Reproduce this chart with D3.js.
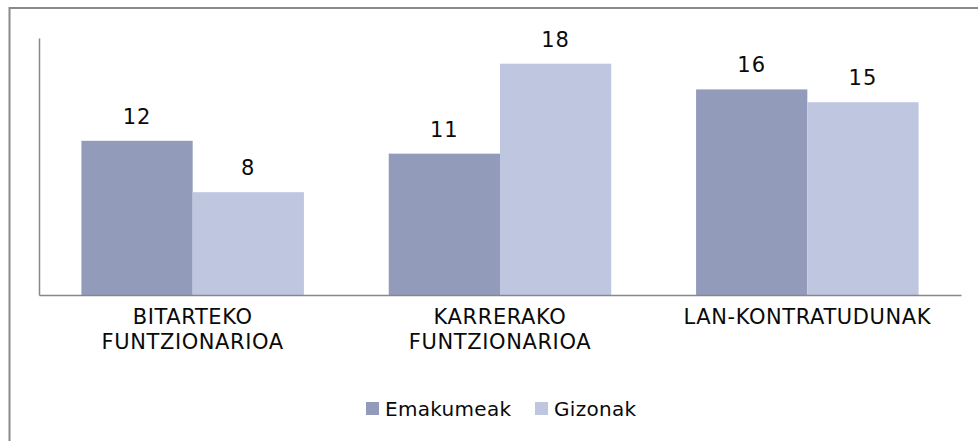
<!DOCTYPE html>
<html>
<head>
<meta charset="utf-8">
<script src="https://cdn.jsdelivr.net/npm/d3@7"></script>
<style>
  html, body { margin: 0; padding: 0; background: #fff; }
  text { font-family: "DejaVu Sans", sans-serif; fill: #0a0a0a; }
</style>
</head>
<body>
<div id="chart"></div>
<script>
const categories = [["BITARTEKO", "FUNTZIONARIOA"], ["KARRERAKO", "FUNTZIONARIOA"], ["LAN-KONTRATUDUNAK"]]
const series_names = ["Emakumeak", "Gizonak"]
const emakumeak = [12, 11, 16]
const gizonak = [8, 18, 15]
const colours = ["#939bba", "#bfc6e0"]

const width = 978
const height = 441
const left = 39
const right = 961
const baseline = 295
const top_y = 38
const font_size = 21
const letter_sp = 0.6

var svg = d3.select("#chart")
	.append("svg")
	.attr("width", width)
	.attr("height", height);

// frame, only top and left edges show in the picture
svg.append("rect")
	.attr("x", 9.5).attr("y", 8)
	.attr("width", 1000).attr("height", 500)
	.attr("fill", "none")
	.attr("stroke", "#8a8a8a")
	.attr("stroke-width", 2);

var cat_keys = categories.map(c => c.join(" "))
var x0 = d3.scaleBand()
	.domain(cat_keys)
	.range([left, right])
	.paddingInner(0.276)
	.paddingOuter(0.138);
var x1 = d3.scaleBand()
	.domain(series_names)
	.range([0, x0.bandwidth()]);
var y = d3.scaleLinear()
	.domain([0, 20])
	.range([baseline, top_y]);

var rows = cat_keys.map((k, i) => ({key: k, values: [
	{name: series_names[0], value: emakumeak[i]},
	{name: series_names[1], value: gizonak[i]}
]}));

var groups = svg.selectAll(".group")
	.data(rows)
	.enter().append("g")
	.attr("class", "group")
	.attr("transform", d => `translate(${x0(d.key)},0)`);

groups.selectAll("rect")
	.data(d => d.values)
	.enter().append("rect")
	.attr("x", d => x1(d.name))
	.attr("y", d => y(d.value))
	.attr("width", x1.bandwidth())
	.attr("height", d => baseline - y(d.value))
	.attr("fill", (d, i) => colours[i]);

groups.selectAll(".val")
	.data(d => d.values)
	.enter().append("text")
	.attr("class", "val")
	.attr("x", d => x1(d.name) + x1.bandwidth()/2)
	.attr("y", d => y(d.value) - 17)
	.attr("text-anchor", "middle")
	.attr("font-size", font_size + "px")
	.attr("letter-spacing", 1)
	.text(d => d.value);

// axes: plain lines, no ticks
var xAxis = d3.axisBottom(x0).tickSize(0).tickFormat("");
svg.append("g")
	.attr("transform", `translate(0,${baseline})`)
	.call(xAxis)
	.call(g => g.select(".domain").attr("stroke", "#888").attr("stroke-width", 1.5));
var yAxis = d3.axisLeft(y).tickSize(0).tickValues([]);
svg.append("g")
	.attr("transform", `translate(${left},0)`)
	.call(yAxis)
	.call(g => g.select(".domain").attr("stroke", "#888").attr("stroke-width", 1.5));

// category labels
var catlabel = svg.selectAll(".catlabel")
	.data(categories)
	.enter().append("text")
	.attr("class", "catlabel")
	.attr("text-anchor", "middle")
	.attr("font-size", font_size + "px")
	.attr("letter-spacing", letter_sp);
catlabel.selectAll("tspan")
	.data((d, i) => d.map(line => ({line: line, key: cat_keys[i]})))
	.enter().append("tspan")
	.attr("x", d => x0(d.key) + x0.bandwidth()/2)
	.attr("y", (d, j) => 324 + j*25)
	.text(d => d.line);

// legend
var legend_x = [366, 535];
var legend = svg.selectAll(".legend")
	.data(series_names)
	.enter().append("g")
	.attr("class", "legend")
	.attr("transform", (d, i) => `translate(${legend_x[i]},402)`);
legend.append("rect")
	.attr("width", 13).attr("height", 13)
	.attr("fill", (d, i) => colours[i]);
legend.append("text")
	.attr("x", 19).attr("y", 14)
	.attr("font-size", "20px")
	.attr("letter-spacing", 0.3)
	.text(d => d);
</script>
</body>
</html>
